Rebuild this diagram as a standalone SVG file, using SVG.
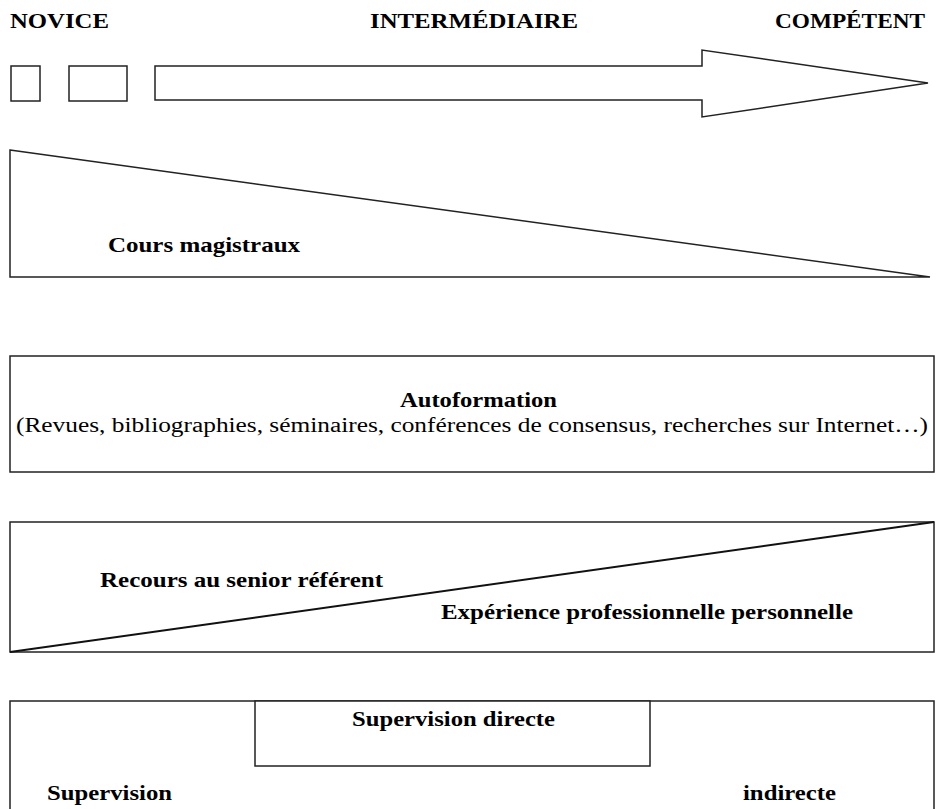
<svg xmlns="http://www.w3.org/2000/svg" width="936" height="809" viewBox="0 0 936 809">
<style>
.t{font-family:"Liberation Serif","Times New Roman",serif;font-weight:bold;font-size:21px;fill:#000}
.r{font-family:"Liberation Serif","Times New Roman",serif;font-size:20px;fill:#000}
.s{fill:#fff;stroke:#222;stroke-width:1.5}
</style>
<rect width="936" height="809" fill="#fff"/>
<g id="header">
<text class="t" x="10" y="28" textLength="99" lengthAdjust="spacingAndGlyphs">NOVICE</text>
<text class="t" x="370" y="28" textLength="208" lengthAdjust="spacingAndGlyphs">INTERMÉDIAIRE</text>
<text class="t" x="775" y="28" textLength="150" lengthAdjust="spacingAndGlyphs">COMPÉTENT</text>
</g>
<g id="progress">
<rect class="s" x="11" y="66" width="29" height="35"/>
<rect class="s" x="69" y="66" width="58" height="35"/>
<path class="s" d="M155,66 H702 V50 L928,83 L702,117 V100 H155 Z"/>
</g>
<g id="cours">
<path class="s" d="M10,150 L930,277 H10 Z"/>
<text class="t" x="108" y="252" textLength="192" lengthAdjust="spacingAndGlyphs">Cours magistraux</text>
</g>
<g id="autoformation">
<rect class="s" x="10" y="356" width="924" height="116"/>
<text class="t" x="400" y="407" textLength="157" lengthAdjust="spacingAndGlyphs">Autoformation</text>
<text class="r" x="16" y="432" textLength="912" lengthAdjust="spacingAndGlyphs">(Revues, bibliographies, séminaires, conférences de consensus, recherches sur Internet…)</text>
</g>
<g id="senior">
<rect class="s" x="10" y="522" width="924" height="130"/>
<text class="t" x="100" y="587" textLength="283" lengthAdjust="spacingAndGlyphs">Recours au senior référent</text>
<text class="t" x="441" y="619" textLength="412" lengthAdjust="spacingAndGlyphs">Expérience professionnelle personnelle</text>
</g>
<g id="supervision">
<rect class="s" x="10" y="701" width="924" height="130"/>
<rect class="s" x="255" y="701" width="395" height="65"/>
<text class="t" x="352" y="726" textLength="203" lengthAdjust="spacingAndGlyphs">Supervision directe</text>
<text class="t" x="47" y="800" textLength="125" lengthAdjust="spacingAndGlyphs">Supervision</text>
<text class="t" x="743" y="800" textLength="93" lengthAdjust="spacingAndGlyphs">indirecte</text>
</g>
<g id="connectors">
<line x1="10" y1="652" x2="934" y2="522" stroke="#111" stroke-width="2"/>
</g>
</svg>
